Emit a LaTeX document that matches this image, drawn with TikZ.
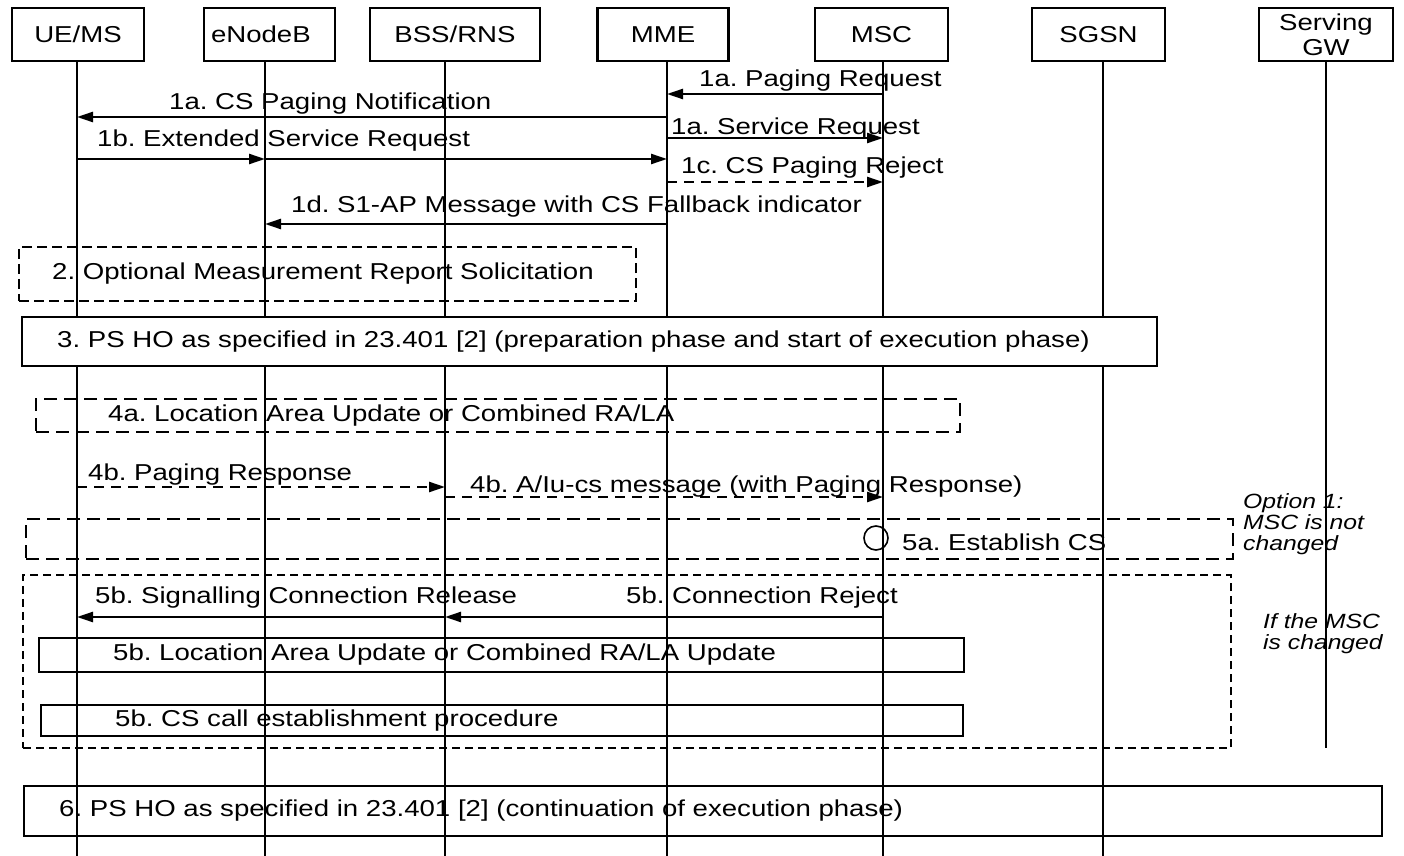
\documentclass[tikz,border=0pt]{standalone}
\usepackage{fontspec}
\setmainfont{Liberation Sans}[FakeStretch=1.2]
\usetikzlibrary{arrows.meta}
\frenchspacing
\tikzset{
	actor/.style={draw, minimum height=26.5pt, inner sep=0pt},
	msg/.style={-{Triangle[length=8pt,width=5pt]}},
	dmsg/.style={msg, dash pattern=on 5pt off 3.5pt},
	lbl/.style={anchor=base west, inner sep=0pt},
	stepbox/.style={draw, anchor=west, inner sep=0pt, align=left},
	shortdash/.style={dash pattern=on 5pt off 2.5pt},
	longdash/.style={dash pattern=on 6.5pt off 3.5pt},
	finedash/.style={line width=1pt, dash pattern=on 4pt off 2.5pt},
	note/.style={anchor=base west, inner sep=0pt, align=left, font=\itshape\fontsize{10.3pt}{10.5pt}\selectfont}
}
\begin{document}
\begin{tikzpicture}[x=0.5pt, y=-0.5pt, line width=1.2pt, font=\fontsize{11.5pt}{12.5pt}\selectfont]
	\useasboundingbox (0,0) rectangle (1404,856);
	% participants
	\node[actor, minimum width=66pt] (ue) at (78,34.5) {UE/MS};
	\node[actor, minimum width=65.5pt, text width=65.5pt, align=left] (enb) at (269.5,34.5) {\hspace*{3.5pt}eNodeB};
	\node[actor, minimum width=85pt] (bss) at (455,34.5) {BSS/RNS};
	\node[actor, minimum width=65.5pt] (mme) at (663,34.5) {MME};
	\node[actor, minimum width=66.5pt] (msc) at (881.5,34.5) {MSC};
	\node[actor, minimum width=66.5pt] (sgsn) at (1098.5,34.5) {SGSN};
	\node[actor, minimum width=67pt, align=center] (sgw) at (1326,34.5) {Serving\\GW};
	% lifelines
	\foreach \n/\x in {ue/77,enb/265,bss/445,mme/667,msc/883,sgsn/1103}{
		\coordinate (l\n) at (\n.south -| \x,0);
		\draw (l\n) -- (l\n |- 0,856);
	}
	\coordinate (lsgw) at (sgw.south);
	\draw (lsgw) -- (lsgw |- 0,748);
	% step 1
	\draw[msg] (lmsc |- 0,94) -- (lmme |- 0,94);
	\node[lbl] (m1apr) at (698,87) {1a. Paging Request};
	\draw[msg] (lmme |- 0,117) -- (lue |- 0,117);
	\node[lbl] (m1acs) at (168,110) {1a. CS Paging Notification};
	\draw[msg] (lmme |- 0,138) -- (lmsc |- 0,138);
	\node[lbl] (m1asr) at (670,135) {1a. Service Request};
	\draw[msg] (lue |- 0,159) -- (lenb |- 0,159);
	\draw[msg] (lenb |- 0,159) -- (lmme |- 0,159);
	\node[lbl] (m1b) at (96,147) {1b. Extended Service Request};
	\draw[dmsg] (lmme |- 0,182) -- (lmsc |- 0,182);
	\node[lbl] (m1c) at (680,174) {1c. CS Paging Reject};
	\draw[msg] (lmme |- 0,224) -- (lenb |- 0,224);
	\node[lbl] (m1d) at (290,213) {1d. S1-AP Message with CS Fallback indicator};
	% steps 2 to 4
	\node[stepbox, shortdash, text width=308.5pt, minimum height=27pt] (s2) at (18,274) {\hspace*{16.5pt}2. Optional Measurement Report Solicitation};
	\node[stepbox, fill=white, text width=567.5pt, minimum height=24.5pt] (s3) at (21,341.5) {\hspace*{17.5pt}3. PS HO as specified in 23.401 [2] (preparation phase and start of execution phase)};
	\node[stepbox, longdash, text width=462pt, minimum height=16.5pt] (s4a) at (35,415.5) {\hspace*{36pt}\raisebox{-2pt}{4a. Location Area Update or Combined RA/LA}};
	\draw[dmsg] (lue |- 0,487) -- (lbss |- 0,487);
	\node[lbl] (m4bpr) at (87,480) {4b. Paging Response};
	\draw[dmsg] (lbss |- 0,497) -- (lmsc |- 0,497);
	\node[lbl] (m4biu) at (469,492) {4b. A/Iu-cs message (with Paging Response)};
	% step 5, option 1
	\node[stepbox, longdash, text width=603.5pt, minimum height=20pt] (opt1) at (25,539) {};
	\node[circle, draw, line width=0.8pt, minimum size=12pt, inner sep=0pt] (est) at (876,538) {};
	\node[lbl] (m5a) at (901,550) {5a. Establish CS};
	\node[note] (nopt1) at (1242,550) {Option 1:\\MSC is not\\changed};
	% step 5, MSC changed
	\node[stepbox, finedash, text width=604pt, minimum height=86.5pt] (grp5b) at (22,661.5) {};
	\node[note] (nchg) at (1262,649) {If the MSC\\is changed};
	\draw[msg] (lbss |- 0,617) -- (lue |- 0,617);
	\node[lbl] (m5bscr) at (94,603) {5b. Signalling Connection Release};
	\draw[msg] (lmsc |- 0,617) -- (lbss |- 0,617);
	\node[lbl] (m5bcr) at (625,603) {5b. Connection Reject};
	\node[stepbox, text width=462.5pt, minimum height=17pt] (s5lau) at (38,655) {\hspace*{37pt}5b. Location Area Update or Combined RA/LA Update};
	\node[stepbox, text width=461pt, minimum height=15.5pt] (s5cs) at (40,720.5) {\hspace*{37pt}5b. CS call establishment procedure};
	% step 6
	\node[stepbox, text width=679pt, minimum height=25pt] (s6) at (23,811) {\hspace*{17.5pt}6. PS HO as specified in 23.401 [2] (continuation of execution phase)};
\end{tikzpicture}
\end{document}
